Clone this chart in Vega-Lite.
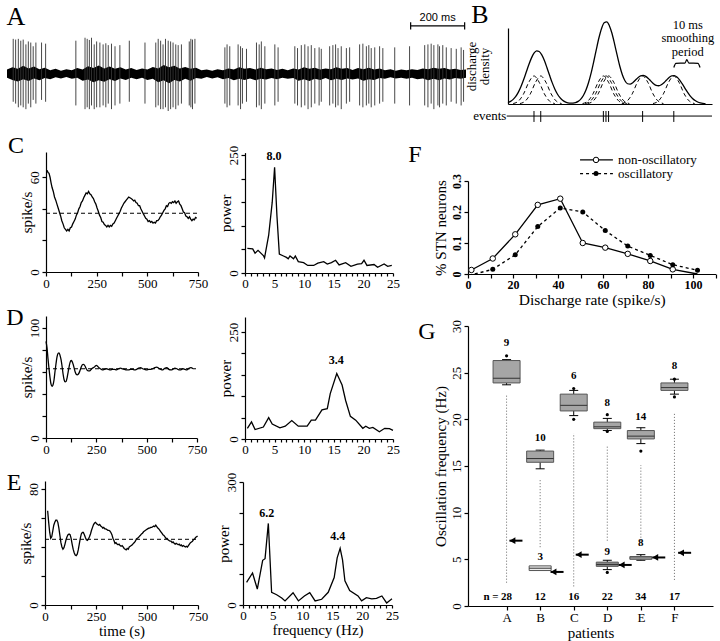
{
"$schema":"https://vega.github.io/schema/vega-lite/v6.json",
"width":720,"height":641,"autosize":{"type":"none"},"padding":0,"background":"white",
"config":{
 "font":"Liberation Serif",
 "view":{"stroke":null},
 "axis":{"grid":false,"domainColor":"#000","tickColor":"#000","labelColor":"#000","titleColor":"#000","labelFont":"Liberation Serif","titleFont":"Liberation Serif","labelFontSize":13,"titleFontSize":15,"titleFontWeight":"normal","tickSize":4,"domainWidth":1.2,"tickWidth":1.2,"labelPadding":1,"labelFlush":false,"labelOverlap":false,"titlePadding":2},
 "text":{"font":"Liberation Serif","fontSize":13,"color":"#000"},
 "line":{"color":"#000","strokeWidth":1.3},
 "rule":{"color":"#000"}
},
"datasets":{
 "aNoise":[{"x":0,"y":0.12,"y2":-0.1},{"x":20,"y":0.18,"y2":-0.16},{"x":40,"y":0.14,"y2":-0.2},{"x":60,"y":0.22,"y2":-0.14},{"x":80,"y":0.15,"y2":-0.19},{"x":100,"y":0.2,"y2":-0.12},{"x":120,"y":0.13,"y2":-0.17},{"x":140,"y":0.17,"y2":-0.11},{"x":160,"y":0.1,"y2":-0.14},{"x":180,"y":0.14,"y2":-0.09},{"x":200,"y":0.09,"y2":-0.12},{"x":220,"y":0.13,"y2":-0.08},{"x":240,"y":0.1,"y2":-0.13},{"x":260,"y":0.16,"y2":-0.1},{"x":280,"y":0.12,"y2":-0.18},{"x":300,"y":0.21,"y2":-0.15},{"x":320,"y":0.16,"y2":-0.22},{"x":340,"y":0.23,"y2":-0.17},{"x":360,"y":0.15,"y2":-0.21},{"x":380,"y":0.2,"y2":-0.14},{"x":400,"y":0.14,"y2":-0.19},{"x":420,"y":0.18,"y2":-0.12},{"x":440,"y":0.12,"y2":-0.16},{"x":460,"y":0.16,"y2":-0.1},{"x":480,"y":0.11,"y2":-0.14},{"x":500,"y":0.15,"y2":-0.1},{"x":520,"y":0.12,"y2":-0.16},{"x":540,"y":0.19,"y2":-0.13},{"x":560,"y":0.15,"y2":-0.22},{"x":580,"y":0.24,"y2":-0.17},{"x":600,"y":0.18,"y2":-0.25},{"x":620,"y":0.22,"y2":-0.16},{"x":640,"y":0.15,"y2":-0.2},{"x":660,"y":0.19,"y2":-0.13},{"x":680,"y":0.14,"y2":-0.18},{"x":700,"y":0.17,"y2":-0.11},{"x":720,"y":0.1,"y2":-0.13},{"x":740,"y":0.12,"y2":-0.08},{"x":760,"y":0.09,"y2":-0.12},{"x":780,"y":0.13,"y2":-0.09},{"x":800,"y":0.1,"y2":-0.14},{"x":820,"y":0.15,"y2":-0.11},{"x":840,"y":0.12,"y2":-0.17},{"x":860,"y":0.18,"y2":-0.13},{"x":880,"y":0.14,"y2":-0.16},{"x":900,"y":0.16,"y2":-0.12},{"x":920,"y":0.12,"y2":-0.17},{"x":940,"y":0.17,"y2":-0.13},{"x":960,"y":0.13,"y2":-0.15},{"x":980,"y":0.15,"y2":-0.11},{"x":1000,"y":0.11,"y2":-0.14},{"x":1020,"y":0.14,"y2":-0.1},{"x":1040,"y":0.1,"y2":-0.13},{"x":1060,"y":0.15,"y2":-0.11},{"x":1080,"y":0.12,"y2":-0.18},{"x":1100,"y":0.18,"y2":-0.14},{"x":1120,"y":0.14,"y2":-0.19},{"x":1140,"y":0.17,"y2":-0.13},{"x":1160,"y":0.12,"y2":-0.16},{"x":1180,"y":0.15,"y2":-0.11},{"x":1200,"y":0.13,"y2":-0.17},{"x":1220,"y":0.18,"y2":-0.13},{"x":1240,"y":0.14,"y2":-0.16},{"x":1260,"y":0.16,"y2":-0.12},{"x":1280,"y":0.11,"y2":-0.15},{"x":1300,"y":0.16,"y2":-0.12},{"x":1320,"y":0.13,"y2":-0.18},{"x":1340,"y":0.17,"y2":-0.14},{"x":1360,"y":0.12,"y2":-0.16},{"x":1380,"y":0.15,"y2":-0.11},{"x":1400,"y":0.1,"y2":-0.13},{"x":1420,"y":0.13,"y2":-0.09},{"x":1440,"y":0.09,"y2":-0.12},{"x":1460,"y":0.12,"y2":-0.1},{"x":1480,"y":0.1,"y2":-0.13},{"x":1500,"y":0.13,"y2":-0.1},{"x":1520,"y":0.11,"y2":-0.14},{"x":1540,"y":0.15,"y2":-0.12},{"x":1560,"y":0.13,"y2":-0.17},{"x":1580,"y":0.17,"y2":-0.13},{"x":1600,"y":0.14,"y2":-0.17},{"x":1620,"y":0.16,"y2":-0.12},{"x":1640,"y":0.12,"y2":-0.15},{"x":1660,"y":0.14,"y2":-0.11},{"x":1680,"y":0.11,"y2":-0.13},{"x":1700,"y":0.12,"y2":-0.1}],
 "aSpikes":[{"x":23,"y":0.95,"y2":-0.75},{"x":32,"y":0.93,"y2":-0.8},{"x":42,"y":0.95,"y2":-0.9},{"x":51,"y":0.9,"y2":-0.85},{"x":60,"y":0.93,"y2":-0.9},{"x":70,"y":0.8,"y2":-0.95},{"x":79,"y":0.88,"y2":-0.8},{"x":88,"y":0.85,"y2":-0.9},{"x":97,"y":0.75,"y2":-0.7},{"x":107,"y":0.85,"y2":-0.8},{"x":128,"y":0.85,"y2":-0.7},{"x":143,"y":0.82,"y2":-0.75},{"x":255,"y":0.9,"y2":-0.85},{"x":289,"y":0.98,"y2":-0.95},{"x":297,"y":0.95,"y2":-0.9},{"x":305,"y":0.92,"y2":-0.95},{"x":313,"y":0.98,"y2":-0.85},{"x":323,"y":0.8,"y2":-0.95},{"x":332,"y":0.88,"y2":-0.9},{"x":344,"y":0.85,"y2":-0.9},{"x":356,"y":0.8,"y2":-0.85},{"x":366,"y":0.83,"y2":-0.9},{"x":375,"y":0.78,"y2":-0.8},{"x":387,"y":0.82,"y2":-0.95},{"x":400,"y":0.75,"y2":-0.85},{"x":418,"y":0.78,"y2":-0.8},{"x":453,"y":0.9,"y2":-0.75},{"x":511,"y":0.85,"y2":-0.8},{"x":551,"y":0.85,"y2":-0.9},{"x":560,"y":0.95,"y2":-0.85},{"x":569,"y":0.9,"y2":-0.95},{"x":578,"y":0.8,"y2":-0.95},{"x":587,"y":0.95,"y2":-0.9},{"x":597,"y":0.9,"y2":-1.0},{"x":606,"y":0.88,"y2":-0.95},{"x":615,"y":0.85,"y2":-0.9},{"x":625,"y":0.8,"y2":-0.95},{"x":634,"y":0.78,"y2":-0.85},{"x":646,"y":0.8,"y2":-0.8},{"x":675,"y":0.88,"y2":-0.85},{"x":681,"y":0.95,"y2":-0.9},{"x":687,"y":0.93,"y2":-0.95},{"x":696,"y":0.95,"y2":-0.8},{"x":807,"y":0.72,"y2":-0.8},{"x":815,"y":0.8,"y2":-0.9},{"x":825,"y":0.75,"y2":-0.85},{"x":856,"y":0.8,"y2":-0.85},{"x":865,"y":0.75,"y2":-0.95},{"x":872,"y":0.7,"y2":-0.8},{"x":887,"y":0.68,"y2":-0.75},{"x":924,"y":0.85,"y2":-0.9},{"x":934,"y":0.8,"y2":-0.85},{"x":942,"y":0.88,"y2":-0.95},{"x":955,"y":0.75,"y2":-0.8},{"x":992,"y":0.8,"y2":-0.85},{"x":1004,"y":0.72,"y2":-0.75},{"x":1066,"y":0.75,"y2":-0.8},{"x":1076,"y":0.7,"y2":-0.85},{"x":1090,"y":0.78,"y2":-0.9},{"x":1103,"y":0.8,"y2":-0.85},{"x":1115,"y":0.75,"y2":-0.95},{"x":1127,"y":0.78,"y2":-0.9},{"x":1140,"y":0.7,"y2":-0.8},{"x":1156,"y":0.72,"y2":-0.85},{"x":1164,"y":0.68,"y2":-0.75},{"x":1195,"y":0.75,"y2":-0.85},{"x":1207,"y":0.78,"y2":-0.8},{"x":1217,"y":0.8,"y2":-0.9},{"x":1226,"y":0.7,"y2":-0.85},{"x":1238,"y":0.75,"y2":-0.95},{"x":1257,"y":0.7,"y2":-0.8},{"x":1269,"y":0.72,"y2":-0.75},{"x":1306,"y":0.8,"y2":-0.85},{"x":1318,"y":0.82,"y2":-0.9},{"x":1331,"y":0.75,"y2":-0.85},{"x":1340,"y":0.78,"y2":-0.8},{"x":1349,"y":0.7,"y2":-0.9},{"x":1362,"y":0.72,"y2":-0.85},{"x":1380,"y":0.75,"y2":-0.8},{"x":1392,"y":0.7,"y2":-0.75},{"x":1436,"y":0.72,"y2":-0.8},{"x":1491,"y":0.75,"y2":-0.85},{"x":1547,"y":0.78,"y2":-0.85},{"x":1559,"y":0.8,"y2":-0.9},{"x":1571,"y":0.82,"y2":-0.8},{"x":1581,"y":0.78,"y2":-0.95},{"x":1596,"y":0.8,"y2":-0.85},{"x":1602,"y":0.75,"y2":-0.9},{"x":1614,"y":0.78,"y2":-0.8},{"x":1627,"y":0.72,"y2":-0.85},{"x":1645,"y":0.7,"y2":-0.75},{"x":1664,"y":0.68,"y2":-0.8},{"x":1682,"y":0.72,"y2":-0.85},{"x":1691,"y":0.65,"y2":-0.75}],
 "bSum":[{"x":0,"y":0.051},{"x":1,"y":0.095},{"x":2,"y":0.165},{"x":3,"y":0.272},{"x":4,"y":0.424},{"x":5,"y":0.623},{"x":6,"y":0.863},{"x":7,"y":1.13},{"x":8,"y":1.398},{"x":9,"y":1.636},{"x":10,"y":1.81},{"x":11,"y":1.892},{"x":12,"y":1.871},{"x":13,"y":1.75},{"x":14,"y":1.548},{"x":15,"y":1.293},{"x":16,"y":1.022},{"x":17,"y":0.762},{"x":18,"y":0.537},{"x":19,"y":0.358},{"x":20,"y":0.225},{"x":21,"y":0.133},{"x":22,"y":0.074},{"x":23,"y":0.044},{"x":24,"y":0.029},{"x":25,"y":0.033},{"x":26,"y":0.052},{"x":27,"y":0.095},{"x":28,"y":0.175},{"x":29,"y":0.304},{"x":30,"y":0.497},{"x":31,"y":0.765},{"x":32,"y":1.109},{"x":33,"y":1.515},{"x":34,"y":1.949},{"x":35,"y":2.362},{"x":36,"y":2.695},{"x":37,"y":2.896},{"x":38,"y":2.931},{"x":39,"y":2.794},{"x":40,"y":2.522},{"x":41,"y":2.147},{"x":42,"y":1.739},{"x":43,"y":1.355},{"x":44,"y":1.043},{"x":45,"y":0.83},{"x":46,"y":0.722},{"x":47,"y":0.706},{"x":48,"y":0.758},{"x":49,"y":0.846},{"x":50,"y":0.938},{"x":51,"y":1.001},{"x":52,"y":1.019},{"x":53,"y":0.985},{"x":54,"y":0.91},{"x":55,"y":0.815},{"x":56,"y":0.725},{"x":57,"y":0.666},{"x":58,"y":0.651},{"x":59,"y":0.685},{"x":60,"y":0.759},{"x":61,"y":0.854},{"x":62,"y":0.943},{"x":63,"y":1.0},{"x":64,"y":1.009},{"x":65,"y":0.96},{"x":66,"y":0.86},{"x":67,"y":0.726},{"x":68,"y":0.576},{"x":69,"y":0.43},{"x":70,"y":0.301},{"x":71,"y":0.198},{"x":72,"y":0.122},{"x":73,"y":0.071},{"x":74,"y":0.039},{"x":75,"y":0.02},{"x":76,"y":0.01}],
 "bDash":[
 {"e":1,"x":2,"y":0.017},{"e":1,"x":4,"y":0.101},{"e":1,"x":6,"y":0.361},{"e":1,"x":8,"y":0.775},{"e":1,"x":10,"y":1},{"e":1,"x":12,"y":0.775},{"e":1,"x":14,"y":0.361},{"e":1,"x":16,"y":0.101},{"e":1,"x":18,"y":0.017},
 {"e":2,"x":4.6,"y":0.017},{"e":2,"x":6.6,"y":0.101},{"e":2,"x":8.6,"y":0.361},{"e":2,"x":10.6,"y":0.775},{"e":2,"x":12.6,"y":1},{"e":2,"x":14.6,"y":0.775},{"e":2,"x":16.6,"y":0.361},{"e":2,"x":18.6,"y":0.101},{"e":2,"x":20.6,"y":0.017},
 {"e":3,"x":28.7,"y":0.017},{"e":3,"x":30.7,"y":0.101},{"e":3,"x":32.7,"y":0.361},{"e":3,"x":34.7,"y":0.775},{"e":3,"x":36.7,"y":1},{"e":3,"x":38.7,"y":0.775},{"e":3,"x":40.7,"y":0.361},{"e":3,"x":42.7,"y":0.101},{"e":3,"x":44.7,"y":0.017},
 {"e":4,"x":29.7,"y":0.017},{"e":4,"x":31.7,"y":0.101},{"e":4,"x":33.7,"y":0.361},{"e":4,"x":35.7,"y":0.775},{"e":4,"x":37.7,"y":1},{"e":4,"x":39.7,"y":0.775},{"e":4,"x":41.7,"y":0.361},{"e":4,"x":43.7,"y":0.101},{"e":4,"x":45.7,"y":0.017},
 {"e":5,"x":30.7,"y":0.017},{"e":5,"x":32.7,"y":0.101},{"e":5,"x":34.7,"y":0.361},{"e":5,"x":36.7,"y":0.775},{"e":5,"x":38.7,"y":1},{"e":5,"x":40.7,"y":0.775},{"e":5,"x":42.7,"y":0.361},{"e":5,"x":44.7,"y":0.101},{"e":5,"x":46.7,"y":0.017},
 {"e":6,"x":43.8,"y":0.017},{"e":6,"x":45.8,"y":0.101},{"e":6,"x":47.8,"y":0.361},{"e":6,"x":49.8,"y":0.775},{"e":6,"x":51.8,"y":1},{"e":6,"x":53.8,"y":0.775},{"e":6,"x":55.8,"y":0.361},{"e":6,"x":57.8,"y":0.101},{"e":6,"x":59.8,"y":0.017},
 {"e":7,"x":55.8,"y":0.017},{"e":7,"x":57.8,"y":0.101},{"e":7,"x":59.8,"y":0.361},{"e":7,"x":61.8,"y":0.775},{"e":7,"x":63.8,"y":1},{"e":7,"x":65.8,"y":0.775},{"e":7,"x":67.8,"y":0.361},{"e":7,"x":69.8,"y":0.101},{"e":7,"x":71.8,"y":0.017}],
 "cTime":[{"x":5,"y":64.5},{"x":10,"y":63},{"x":15,"y":62.5},{"x":20,"y":60},{"x":25,"y":56.5},{"x":30,"y":53.5},{"x":36,"y":51},{"x":42,"y":47.5},{"x":48,"y":45.5},{"x":54,"y":43},{"x":60,"y":40.5},{"x":66,"y":38},{"x":72,"y":35.5},{"x":78,"y":32.5},{"x":84,"y":30.5},{"x":90,"y":28},{"x":96,"y":27},{"x":102,"y":26},{"x":108,"y":27},{"x":114,"y":26},{"x":120,"y":28},{"x":126,"y":28.5},{"x":132,"y":30.5},{"x":138,"y":32},{"x":144,"y":33.5},{"x":150,"y":36},{"x":156,"y":37.5},{"x":162,"y":40},{"x":168,"y":41.5},{"x":174,"y":44},{"x":180,"y":45},{"x":186,"y":47},{"x":192,"y":48.5},{"x":198,"y":50},{"x":204,"y":49.5},{"x":210,"y":51},{"x":216,"y":49.5},{"x":222,"y":49},{"x":228,"y":47.5},{"x":234,"y":46.5},{"x":240,"y":44.5},{"x":246,"y":43},{"x":252,"y":40.5},{"x":258,"y":38.5},{"x":264,"y":36},{"x":270,"y":34.5},{"x":276,"y":32},{"x":282,"y":31.5},{"x":288,"y":30},{"x":294,"y":29.5},{"x":300,"y":28.5},{"x":306,"y":29.5},{"x":312,"y":28.5},{"x":318,"y":29.5},{"x":324,"y":29},{"x":330,"y":30.5},{"x":336,"y":31},{"x":342,"y":32.5},{"x":348,"y":34},{"x":354,"y":35.5},{"x":360,"y":37},{"x":366,"y":38.5},{"x":372,"y":40.5},{"x":378,"y":42},{"x":384,"y":43.5},{"x":390,"y":44.5},{"x":396,"y":45.5},{"x":402,"y":46.5},{"x":408,"y":47.5},{"x":414,"y":47},{"x":420,"y":46.5},{"x":426,"y":46},{"x":432,"y":45},{"x":438,"y":45.5},{"x":444,"y":44},{"x":450,"y":43.5},{"x":456,"y":42},{"x":462,"y":42},{"x":468,"y":40},{"x":474,"y":38.5},{"x":480,"y":37},{"x":486,"y":35.5},{"x":492,"y":34},{"x":498,"y":33.5},{"x":504,"y":32},{"x":510,"y":32.5},{"x":516,"y":31.5},{"x":522,"y":32},{"x":528,"y":31},{"x":534,"y":31.5},{"x":540,"y":31},{"x":546,"y":32.5},{"x":552,"y":32.5},{"x":558,"y":33.5},{"x":564,"y":35},{"x":570,"y":36},{"x":576,"y":37.5},{"x":582,"y":39},{"x":588,"y":40},{"x":594,"y":42},{"x":600,"y":41.5},{"x":606,"y":43.5},{"x":612,"y":44},{"x":618,"y":43.5},{"x":624,"y":44.5},{"x":630,"y":44},{"x":636,"y":45},{"x":642,"y":43.5},{"x":648,"y":44.5},{"x":654,"y":45},{"x":660,"y":43},{"x":666,"y":42},{"x":672,"y":40},{"x":678,"y":38},{"x":684,"y":37.5},{"x":690,"y":35.5},{"x":696,"y":35},{"x":702,"y":34},{"x":708,"y":35},{"x":714,"y":33.5},{"x":720,"y":32.5},{"x":726,"y":33.5},{"x":732,"y":33},{"x":738,"y":34.5},{"x":744,"y":34}],
 "cPow":[{"x":0.4,"y":52},{"x":1.3,"y":51},{"x":1.7,"y":42},{"x":2.2,"y":48},{"x":3.1,"y":37},{"x":3.3,"y":32},{"x":4.0,"y":80},{"x":4.6,"y":150},{"x":5.0,"y":224},{"x":5.4,"y":120},{"x":5.8,"y":40},{"x":6.5,"y":36},{"x":7.0,"y":33},{"x":7.3,"y":30},{"x":7.6,"y":36},{"x":8.2,"y":30},{"x":8.5,"y":36},{"x":9.0,"y":24},{"x":9.9,"y":22},{"x":10.6,"y":16},{"x":11.6,"y":16},{"x":12.3,"y":21},{"x":13.3,"y":24},{"x":13.9,"y":19},{"x":14.6,"y":22},{"x":15.3,"y":27},{"x":15.9,"y":17},{"x":17.0,"y":22},{"x":17.9,"y":14},{"x":19.0,"y":19},{"x":19.7,"y":20},{"x":20.1,"y":27},{"x":20.6,"y":16},{"x":21.8,"y":18},{"x":22.4,"y":12},{"x":23.5,"y":19},{"x":24.1,"y":14},{"x":24.8,"y":16}],
 "dTime":[{"x":0,"y":88},{"x":5,"y":82},{"x":10,"y":72},{"x":15,"y":63},{"x":20,"y":55},{"x":25,"y":49},{"x":30,"y":47},{"x":35,"y":48.5},{"x":40,"y":53},{"x":45,"y":61},{"x":50,"y":68},{"x":55,"y":74},{"x":60,"y":77},{"x":65,"y":77.5},{"x":70,"y":75},{"x":75,"y":71},{"x":80,"y":65},{"x":85,"y":58},{"x":90,"y":53},{"x":95,"y":51},{"x":100,"y":51.5},{"x":105,"y":55},{"x":110,"y":60},{"x":115,"y":65},{"x":120,"y":69},{"x":125,"y":70.5},{"x":130,"y":69.5},{"x":135,"y":67},{"x":140,"y":63.5},{"x":145,"y":60},{"x":150,"y":58},{"x":155,"y":57.5},{"x":160,"y":58},{"x":165,"y":59.5},{"x":170,"y":62},{"x":175,"y":64.5},{"x":180,"y":66.5},{"x":185,"y":67},{"x":190,"y":66.5},{"x":195,"y":65},{"x":200,"y":63},{"x":205,"y":61.5},{"x":210,"y":61},{"x":215,"y":61},{"x":220,"y":61.5},{"x":225,"y":62.5},{"x":230,"y":63.5},{"x":235,"y":64},{"x":240,"y":64.5},{"x":245,"y":65.5},{"x":250,"y":66},{"x":255,"y":65.5},{"x":260,"y":64.5},{"x":270,"y":63},{"x":280,"y":62},{"x":290,"y":62.5},{"x":300,"y":63},{"x":310,"y":62.5},{"x":320,"y":62},{"x":330,"y":62.5},{"x":340,"y":62.5},{"x":350,"y":62},{"x":360,"y":63},{"x":370,"y":63.5},{"x":380,"y":63},{"x":390,"y":62.5},{"x":400,"y":62},{"x":410,"y":62},{"x":420,"y":62.5},{"x":430,"y":62.5},{"x":440,"y":62},{"x":450,"y":62.5},{"x":460,"y":63.5},{"x":470,"y":64},{"x":480,"y":63},{"x":490,"y":62.5},{"x":500,"y":62},{"x":510,"y":62.5},{"x":520,"y":62.5},{"x":530,"y":63},{"x":540,"y":64},{"x":550,"y":64.5},{"x":560,"y":63.5},{"x":570,"y":62.5},{"x":580,"y":62},{"x":590,"y":63.5},{"x":600,"y":64},{"x":610,"y":62.5},{"x":620,"y":62},{"x":630,"y":62.5},{"x":640,"y":63.5},{"x":650,"y":63},{"x":660,"y":62},{"x":670,"y":62},{"x":680,"y":63},{"x":690,"y":62.5},{"x":700,"y":62},{"x":710,"y":63.5},{"x":720,"y":64},{"x":730,"y":63}],
 "dPow":[{"x":0.4,"y":25},{"x":1.1,"y":40},{"x":1.7,"y":22},{"x":3.1,"y":28},{"x":4.0,"y":50},{"x":4.6,"y":35},{"x":5.9,"y":26},{"x":6.8,"y":30},{"x":7.9,"y":43},{"x":9.0,"y":30},{"x":10.5,"y":30},{"x":11.2,"y":44},{"x":11.9,"y":44},{"x":13.0,"y":68},{"x":13.9,"y":71},{"x":14.4,"y":106},{"x":15.5,"y":153},{"x":16.4,"y":126},{"x":17.0,"y":90},{"x":17.8,"y":53},{"x":18.7,"y":44},{"x":19.9,"y":25},{"x":20.4,"y":30},{"x":21.0,"y":25},{"x":21.6,"y":27},{"x":22.7,"y":17},{"x":23.6,"y":25},{"x":24.4,"y":24},{"x":25.0,"y":20}],
 "eTime":[{"x":13,"y":65},{"x":18,"y":57},{"x":23,"y":50},{"x":28,"y":46},{"x":33,"y":47},{"x":38,"y":51},{"x":43,"y":55},{"x":48,"y":57},{"x":53,"y":58.5},{"x":58,"y":58.5},{"x":63,"y":57},{"x":68,"y":53},{"x":73,"y":48},{"x":78,"y":43},{"x":83,"y":40},{"x":88,"y":38.5},{"x":93,"y":39.5},{"x":98,"y":42},{"x":103,"y":45},{"x":108,"y":47},{"x":113,"y":48.5},{"x":118,"y":49},{"x":123,"y":48.5},{"x":128,"y":46},{"x":133,"y":42},{"x":138,"y":38.5},{"x":143,"y":36},{"x":148,"y":34.5},{"x":153,"y":34},{"x":158,"y":35},{"x":163,"y":38},{"x":168,"y":42},{"x":173,"y":46},{"x":178,"y":49},{"x":183,"y":50},{"x":188,"y":50},{"x":193,"y":48.5},{"x":198,"y":46.5},{"x":203,"y":45},{"x":208,"y":44.5},{"x":213,"y":45.5},{"x":218,"y":47},{"x":223,"y":49},{"x":228,"y":51.5},{"x":233,"y":53.5},{"x":238,"y":55.5},{"x":243,"y":56.5},{"x":248,"y":57},{"x":253,"y":56},{"x":258,"y":55.5},{"x":263,"y":55},{"x":268,"y":55.5},{"x":273,"y":54.5},{"x":278,"y":54},{"x":283,"y":53},{"x":288,"y":53.5},{"x":293,"y":52.5},{"x":298,"y":52.5},{"x":303,"y":52},{"x":308,"y":51.5},{"x":313,"y":51.5},{"x":318,"y":51},{"x":323,"y":50},{"x":328,"y":48.5},{"x":333,"y":46},{"x":338,"y":44.5},{"x":343,"y":42.5},{"x":348,"y":43},{"x":353,"y":42},{"x":358,"y":41.5},{"x":363,"y":42},{"x":368,"y":41},{"x":373,"y":40.5},{"x":378,"y":41},{"x":383,"y":40},{"x":388,"y":39},{"x":393,"y":38.5},{"x":398,"y":38},{"x":403,"y":39},{"x":408,"y":38.5},{"x":413,"y":40},{"x":418,"y":40.5},{"x":423,"y":41},{"x":428,"y":41.5},{"x":433,"y":42.5},{"x":438,"y":43},{"x":443,"y":44},{"x":448,"y":45.5},{"x":453,"y":46},{"x":458,"y":46.5},{"x":463,"y":47.5},{"x":468,"y":48},{"x":473,"y":49},{"x":478,"y":49.5},{"x":483,"y":50.5},{"x":488,"y":51},{"x":493,"y":51.5},{"x":498,"y":52},{"x":503,"y":52.5},{"x":508,"y":53},{"x":513,"y":53},{"x":518,"y":53.5},{"x":523,"y":53.5},{"x":528,"y":54},{"x":533,"y":54.5},{"x":538,"y":54},{"x":543,"y":55},{"x":548,"y":54},{"x":553,"y":53},{"x":558,"y":52.5},{"x":563,"y":51.5},{"x":568,"y":50.5},{"x":573,"y":49.5},{"x":578,"y":48.5},{"x":583,"y":48},{"x":588,"y":47},{"x":593,"y":46},{"x":598,"y":46},{"x":603,"y":45},{"x":608,"y":44.5},{"x":613,"y":44},{"x":618,"y":44},{"x":623,"y":43},{"x":628,"y":43.5},{"x":633,"y":42.5},{"x":638,"y":42},{"x":643,"y":42.5},{"x":648,"y":42},{"x":653,"y":41.5},{"x":658,"y":42},{"x":663,"y":41},{"x":668,"y":41.5},{"x":673,"y":40.5},{"x":678,"y":41},{"x":683,"y":40.5},{"x":688,"y":40},{"x":693,"y":40.5},{"x":698,"y":40},{"x":703,"y":41},{"x":708,"y":42},{"x":713,"y":43},{"x":718,"y":43.5},{"x":723,"y":44},{"x":728,"y":45},{"x":733,"y":45.5},{"x":738,"y":46.5},{"x":743,"y":47},{"x":748,"y":47.5}],
 "ePow":[{"x":0.6,"y":55},{"x":1.6,"y":78},{"x":2.4,"y":39},{"x":3.3,"y":109},{"x":3.7,"y":113},{"x":4.25,"y":199},{"x":4.8,"y":31},{"x":5.65,"y":25},{"x":6.5,"y":17},{"x":7.05,"y":10},{"x":8.4,"y":30},{"x":9.3,"y":10},{"x":10.3,"y":22},{"x":11.2,"y":30},{"x":12.1,"y":10},{"x":13.2,"y":14},{"x":14.3,"y":31},{"x":15.3,"y":67},{"x":15.8,"y":115},{"x":16.3,"y":138},{"x":16.7,"y":110},{"x":17.1,"y":59},{"x":17.9,"y":35},{"x":19.3,"y":22},{"x":19.9,"y":10},{"x":20.7,"y":18},{"x":21.6,"y":15},{"x":22.4,"y":16},{"x":23.3,"y":22},{"x":24.1,"y":5},{"x":25.0,"y":15}],
 "fNon":[{"x":1.5,"y":0.013,"m":true},{"x":11,"y":0.05,"m":true},{"x":21,"y":0.128,"m":true},{"x":31,"y":0.223,"m":true},{"x":41,"y":0.243,"m":true},{"x":51,"y":0.1,"m":true},{"x":61,"y":0.085,"m":true},{"x":71,"y":0.065,"m":true},{"x":81,"y":0.042,"m":true},{"x":91,"y":0.015,"m":true},{"x":102,"y":0,"m":false}],
 "fOsc":[{"x":3,"y":0,"m":false},{"x":11,"y":0.015,"m":true},{"x":21,"y":0.062,"m":true},{"x":31,"y":0.153,"m":true},{"x":41,"y":0.213,"m":true},{"x":51,"y":0.2,"m":true},{"x":61,"y":0.14,"m":true},{"x":71,"y":0.09,"m":true},{"x":81,"y":0.06,"m":true},{"x":91,"y":0.03,"m":true},{"x":102,"y":0.012,"m":true}],
 "gBoxHi":[{"x":1,"y":23.9,"y2":26.3,"kind":"h"},{"x":2,"y":15.4,"y2":16.6,"kind":"h"},{"x":3,"y":20.9,"y2":22.7,"kind":"h"},{"x":4,"y":19.0,"y2":19.7,"kind":"h"},{"x":5,"y":17.9,"y2":18.8,"kind":"h"},{"x":6,"y":23.1,"y2":23.9,"kind":"h"}],
 "gBoxLo":[{"x":2,"y":3.8,"y2":4.3,"kind":"l"},{"x":4,"y":4.25,"y2":4.7,"kind":"d"},{"x":5,"y":5.0,"y2":5.3,"kind":"l"}],
 "gMedHi":[{"x":1,"y":24.4},{"x":2,"y":15.8},{"x":3,"y":21.5},{"x":4,"y":19.2},{"x":5,"y":18.2},{"x":6,"y":23.4}],
 "gMedLo":[{"x":2,"y":4.05},{"x":4,"y":4.45},{"x":5,"y":5.15}],
 "gWhisk":[{"x":1,"y":23.7,"y2":23.9},{"x":1,"y":26.3,"y2":26.4},{"x":2,"y":14.7,"y2":15.4},{"x":2,"y":16.6,"y2":16.7},{"x":3,"y":20.4,"y2":20.9},{"x":3,"y":22.7,"y2":23.1},{"x":4,"y":18.8,"y2":19.0},{"x":4,"y":19.7,"y2":20.1},{"x":4,"y":3.9,"y2":4.25},{"x":4,"y":4.7,"y2":4.9},{"x":5,"y":17.4,"y2":17.9},{"x":5,"y":18.8,"y2":19.1},{"x":5,"y":4.9,"y2":5.0},{"x":5,"y":5.3,"y2":5.5},{"x":6,"y":22.7,"y2":23.1},{"x":6,"y":23.9,"y2":24.3}],
 "gCap":[{"x":1,"y":23.7},{"x":1,"y":26.4},{"x":2,"y":14.7},{"x":2,"y":16.7},{"x":3,"y":20.4},{"x":3,"y":23.1},{"x":4,"y":18.8},{"x":4,"y":20.1},{"x":4,"y":3.9},{"x":4,"y":4.9},{"x":5,"y":17.4},{"x":5,"y":19.1},{"x":5,"y":4.9},{"x":5,"y":5.5},{"x":6,"y":22.7},{"x":6,"y":24.3}],
 "gOut":[{"x":1,"y":26.8},{"x":3,"y":23.3},{"x":3,"y":20.0},{"x":4,"y":20.5},{"x":4,"y":18.7},{"x":4,"y":3.6},{"x":5,"y":16.6},{"x":6,"y":24.3},{"x":6,"y":22.4}],
 "gDot":[{"x":1,"y":2.5,"y2":22.6},{"x":2,"y":6.3,"y2":13.6},{"x":3,"y":2.1,"y2":18.5},{"x":4,"y":7.0,"y2":17.1},{"x":5,"y":7.0,"y2":15.1},{"x":6,"y":2.8,"y2":20.8}],
 "gArrow":[{"x":1.086,"y":7.0},{"x":2.31,"y":3.65},{"x":3.06,"y":5.5},{"x":4.34,"y":4.4},{"x":5.34,"y":5.2},{"x":6.11,"y":5.7}],
 "gCount":[{"x":1,"y":28.2,"label":"9"},{"x":2,"y":18.0,"label":"10"},{"x":3,"y":24.6,"label":"6"},{"x":4,"y":21.8,"label":"8"},{"x":5,"y":20.2,"label":"14"},{"x":6,"y":25.7,"label":"8"},{"x":2,"y":5.3,"label":"3"},{"x":4,"y":5.8,"label":"9"},{"x":5,"y":6.7,"label":"8"}],
 "gN":[{"x":1,"y":0.95,"label":"28"},{"x":2,"y":0.95,"label":"12"},{"x":3,"y":0.95,"label":"16"},{"x":4,"y":0.95,"label":"22"},{"x":5,"y":0.95,"label":"34"},{"x":6,"y":0.95,"label":"17"}]
},
"resolve":{"scale":{"x":"independent","y":"independent"},"axis":{"x":"independent","y":"independent"}},
"layer":[
 {"encoding":{"x":{"field":"x","type":"quantitative","scale":{"domain":[0,1700],"range":[7,466],"nice":false,"zero":false},"axis":null},
   "y":{"field":"y","type":"quantitative","scale":{"domain":[-1,1],"range":[111,37],"nice":false,"zero":false},"axis":null}},
  "layer":[
   {"data":{"name":"aNoise"},"mark":{"type":"area","color":"#000"},"encoding":{"y2":{"field":"y2"}}},
   {"data":{"name":"aSpikes"},"mark":{"type":"rule","color":"#333","strokeWidth":0.9},"encoding":{"y2":{"field":"y2"}}},
   {"data":{"values":[{"x":1495,"x2":1695,"y":1.3}]},"mark":{"type":"rule","strokeWidth":1.2},"encoding":{"x2":{"field":"x2"}}},
   {"data":{"values":[{"x":1495,"y":1.2,"y2":1.4},{"x":1695,"y":1.2,"y2":1.4}]},"mark":{"type":"rule","strokeWidth":1.2},"encoding":{"y2":{"field":"y2"}}},
   {"data":{"values":[{"x":1595,"y":1.52,"label":"200 ms"}]},"mark":{"type":"text","font":"Liberation Sans","fontSize":11},"encoding":{"text":{"field":"label"}}},
   {"data":{"values":[{"x":33,"y":1.55,"label":"A"}]},"mark":{"type":"text","fontSize":26},"encoding":{"text":{"field":"label"}}}
  ]},
 {"encoding":{"x":{"field":"x","type":"quantitative","scale":{"domain":[0,78.5],"range":[508,712],"nice":false,"zero":false},"axis":{"orient":"bottom","offset":-537,"ticks":false,"labels":false,"title":null}},
   "y":{"field":"y","type":"quantitative","scale":{"domain":[0,2.71],"range":[104,28],"nice":false,"zero":false},"axis":{"orient":"left","offset":-508,"ticks":false,"labels":false,"title":["discharge","density"],"titleFontSize":13,"titleLineHeight":13,"titlePadding":17}}},
  "layer":[
   {"data":{"name":"bDash"},"mark":{"type":"line","strokeDash":[4,3],"strokeWidth":1,"interpolate":"monotone"},"encoding":{"detail":{"field":"e"}}},
   {"data":{"name":"bSum"},"mark":{"type":"line","interpolate":"monotone","strokeWidth":1.3}},
   {"data":{"values":[{"x":-0.5,"x2":78.5,"y":-0.43}]},"mark":{"type":"rule","strokeWidth":1},"encoding":{"x2":{"field":"x2"}}},
   {"data":{"values":[{"x":10,"y":-0.25,"y2":-0.64},{"x":12.6,"y":-0.25,"y2":-0.64},{"x":36.7,"y":-0.25,"y2":-0.64},{"x":37.7,"y":-0.25,"y2":-0.64},{"x":38.7,"y":-0.25,"y2":-0.64},{"x":51.8,"y":-0.25,"y2":-0.64},{"x":63.8,"y":-0.25,"y2":-0.64}]},"mark":{"type":"rule","strokeWidth":1},"encoding":{"y2":{"field":"y2"}}},
   {"data":{"values":[{"x":-0.6,"y":-0.43,"label":"events"}]},"mark":{"type":"text","align":"right","fontSize":13},"encoding":{"text":{"field":"label"}}},
   {"data":{"values":[{"x":69.2,"y":2.82,"label":"10 ms"},{"x":69.2,"y":2.36,"label":"smoothing"},{"x":69.2,"y":1.86,"label":"period"}]},"mark":{"type":"text","fontSize":12.5},"encoding":{"text":{"field":"label"}}},
   {"data":{"values":[{"x":63.8,"y":1.3},{"x":64.6,"y":1.45},{"x":68.1,"y":1.46},{"x":68.8,"y":1.58},{"x":69.6,"y":1.46},{"x":73.1,"y":1.45},{"x":73.9,"y":1.3}]},"mark":{"type":"line","strokeWidth":1.2,"interpolate":"monotone"}},
   {"data":{"values":[{"x":-10.8,"y":3.18,"label":"B"}]},"mark":{"type":"text","fontSize":26},"encoding":{"text":{"field":"label"}}}
  ]},
 {"encoding":{"x":{"field":"x","type":"quantitative","scale":{"domain":[0,750],"range":[46,198],"nice":false,"zero":false},"axis":{"orient":"bottom","offset":-369,"values":[0,125,250,375,500,625,750],"labelExpr":"datum.value%250==0?datum.label:''","title":null}},
   "y":{"field":"y","type":"quantitative","scale":{"domain":[0,76],"range":[272,152],"nice":false,"zero":false},"axis":{"orient":"left","offset":-46,"values":[0,20,40,60],"labelExpr":"datum.value==0||datum.value==60?datum.label:''","labelAngle":-90,"labelAlign":"center","labelBaseline":"bottom","title":"spike/s","titlePadding":-6}}},
  "layer":[
   {"data":{"name":"cTime"},"mark":{"type":"line","strokeWidth":1.3}},
   {"data":{"values":[{"x":0,"x2":745,"y":37.2}]},"mark":{"type":"rule","strokeDash":[4,3],"strokeWidth":1},"encoding":{"x2":{"field":"x2"}}},
   {"data":{"values":[{"x":-148,"y":79.8,"label":"C"}]},"mark":{"type":"text","fontSize":24},"encoding":{"text":{"field":"label"}}}
  ]},
 {"encoding":{"x":{"field":"x","type":"quantitative","scale":{"domain":[0,25],"range":[245,393],"nice":false,"zero":false},"axis":{"orient":"bottom","offset":-368,"values":[0,1,2,3,4,5,6,7,8,9,10,11,12,13,14,15,16,17,18,19,20,21,22,23,24,25],"labelExpr":"datum.value%5==0?datum.label:''","tickSize":3,"title":null}},
   "y":{"field":"y","type":"quantitative","scale":{"domain":[0,255],"range":[273,152.6],"nice":false,"zero":false},"axis":{"orient":"left","offset":-245,"values":[0,50,100,150,200,250],"labelExpr":"datum.value==0||datum.value==250?datum.label:''","labelAngle":-90,"labelAlign":"center","labelBaseline":"bottom","title":"power","titlePadding":-6}}},
  "layer":[
   {"data":{"name":"cPow"},"mark":{"type":"line","strokeWidth":1.3}},
   {"data":{"values":[{"x":4.9,"y":248,"label":"8.0"}]},"mark":{"type":"text","fontSize":12,"fontWeight":"bold"},"encoding":{"text":{"field":"label"}}}
  ]},
 {"encoding":{"x":{"field":"x","type":"quantitative","scale":{"domain":[0,750],"range":[46,197],"nice":false,"zero":false},"axis":{"orient":"bottom","offset":-203,"values":[0,125,250,375,500,625,750],"labelExpr":"datum.value%250==0?datum.label:''","title":null}},
   "y":{"field":"y","type":"quantitative","scale":{"domain":[0,111],"range":[438,316],"nice":false,"zero":false},"axis":{"orient":"left","offset":-46,"values":[0,20,40,60,80,100],"labelExpr":"datum.value==0||datum.value==100?datum.label:''","labelAngle":-90,"labelAlign":"center","labelBaseline":"bottom","title":"spike/s","titlePadding":-6}}},
  "layer":[
   {"data":{"name":"dTime"},"mark":{"type":"line","strokeWidth":1.3,"interpolate":"monotone"}},
   {"data":{"values":[{"x":0,"x2":745,"y":63}]},"mark":{"type":"rule","strokeDash":[4,3],"strokeWidth":1},"encoding":{"x2":{"field":"x2"}}},
   {"data":{"values":[{"x":-154,"y":109,"label":"D"}]},"mark":{"type":"text","fontSize":24},"encoding":{"text":{"field":"label"}}}
  ]},
 {"encoding":{"x":{"field":"x","type":"quantitative","scale":{"domain":[0,25],"range":[245,393],"nice":false,"zero":false},"axis":{"orient":"bottom","offset":-202,"values":[0,1,2,3,4,5,6,7,8,9,10,11,12,13,14,15,16,17,18,19,20,21,22,23,24,25],"labelExpr":"datum.value%5==0?datum.label:''","tickSize":3,"title":null}},
   "y":{"field":"y","type":"quantitative","scale":{"domain":[0,285],"range":[439,317],"nice":false,"zero":false},"axis":{"orient":"left","offset":-245,"values":[0,50,100,150,200,250],"labelExpr":"datum.value==0||datum.value==250?datum.label:''","labelAngle":-90,"labelAlign":"center","labelBaseline":"bottom","title":"power","titlePadding":-6}}},
  "layer":[
   {"data":{"name":"dPow"},"mark":{"type":"line","strokeWidth":1.3}},
   {"data":{"values":[{"x":15.4,"y":185,"label":"3.4"}]},"mark":{"type":"text","fontSize":12,"fontWeight":"bold"},"encoding":{"text":{"field":"label"}}}
  ]},
 {"encoding":{"x":{"field":"x","type":"quantitative","scale":{"domain":[0,750],"range":[45,198],"nice":false,"zero":false},"axis":{"orient":"bottom","offset":-36,"values":[0,125,250,375,500,625,750],"labelExpr":"datum.value%250==0?datum.label:''","title":"time (s)","titlePadding":0}},
   "y":{"field":"y","type":"quantitative","scale":{"domain":[0,85.5],"range":[605,481],"nice":false,"zero":false},"axis":{"orient":"left","offset":-45,"values":[0,20,40,60,80],"labelExpr":"datum.value==0||datum.value==80?datum.label:''","labelAngle":-90,"labelAlign":"center","labelBaseline":"bottom","title":"spike/s","titlePadding":-6}}},
  "layer":[
   {"data":{"name":"eTime"},"mark":{"type":"line","strokeWidth":1.3}},
   {"data":{"values":[{"x":0,"x2":740,"y":45.3}]},"mark":{"type":"rule","strokeDash":[4,3],"strokeWidth":1},"encoding":{"x2":{"field":"x2"}}},
   {"data":{"values":[{"x":-152,"y":84.1,"label":"E"}]},"mark":{"type":"text","fontSize":24},"encoding":{"text":{"field":"label"}}}
  ]},
 {"encoding":{"x":{"field":"x","type":"quantitative","scale":{"domain":[0,25],"range":[243,392],"nice":false,"zero":false},"axis":{"orient":"bottom","offset":-36,"values":[0,1,2,3,4,5,6,7,8,9,10,11,12,13,14,15,16,17,18,19,20,21,22,23,24,25],"labelExpr":"datum.value%5==0?datum.label:''","tickSize":3,"title":"frequency (Hz)","titlePadding":0}},
   "y":{"field":"y","type":"quantitative","scale":{"domain":[0,300],"range":[605,482],"nice":false,"zero":false},"axis":{"orient":"left","offset":-243,"values":[0,75,150,225,300],"labelExpr":"datum.value==0||datum.value==300?datum.label:''","labelAngle":-90,"labelAlign":"center","labelBaseline":"bottom","title":"power","titlePadding":-6}}},
  "layer":[
   {"data":{"name":"ePow"},"mark":{"type":"line","strokeWidth":1.3}},
   {"data":{"values":[{"x":4.0,"y":224,"label":"6.2"},{"x":15.9,"y":168,"label":"4.4"}]},"mark":{"type":"text","fontSize":12,"fontWeight":"bold"},"encoding":{"text":{"field":"label"}}}
  ]},
 {"encoding":{"x":{"field":"x","type":"quantitative","scale":{"domain":[0,110],"range":[468,715.5],"nice":false,"zero":false},"axis":{"orient":"bottom","offset":-367,"values":[0,10,20,30,40,50,60,70,80,90,100,110],"labelExpr":"datum.value%20==0&&datum.value<=100?datum.label:''","labelFontWeight":"bold","labelFontSize":12,"title":"Discharge rate (spike/s)","titleFontSize":15.5,"titlePadding":2}},
   "y":{"field":"y","type":"quantitative","scale":{"domain":[0,0.3],"range":[274,181],"nice":false,"zero":false},"axis":{"orient":"left","offset":-468,"values":[0,0.1,0.2,0.3],"format":".1~f","labelAngle":-90,"labelAlign":"center","labelBaseline":"bottom","labelFontWeight":"bold","labelFontSize":12,"title":"% STN neurons","titlePadding":2}}},
  "layer":[
   {"data":{"name":"fNon"},"mark":{"type":"line","strokeWidth":1.3}},
   {"data":{"name":"fOsc"},"mark":{"type":"line","strokeWidth":1.3,"strokeDash":[3,3]}},
   {"data":{"name":"fNon"},"transform":[{"filter":"datum.m"}],"mark":{"type":"point","shape":"circle","filled":true,"fill":"white","stroke":"#000","strokeWidth":1,"size":30,"opacity":1}},
   {"data":{"name":"fOsc"},"transform":[{"filter":"datum.m"}],"mark":{"type":"point","shape":"circle","filled":true,"color":"#000","size":25,"opacity":1}},
   {"data":{"values":[{"x":49.8,"x2":64.4,"y":0.368}]},"mark":{"type":"rule","strokeWidth":1.3},"encoding":{"x2":{"field":"x2"}}},
   {"data":{"values":[{"x":49.8,"x2":64.4,"y":0.324}]},"mark":{"type":"rule","strokeWidth":1.3,"strokeDash":[3,3]},"encoding":{"x2":{"field":"x2"}}},
   {"data":{"values":[{"x":56.9,"y":0.368}]},"mark":{"type":"point","shape":"circle","filled":true,"fill":"white","stroke":"#000","strokeWidth":1,"size":30,"opacity":1}},
   {"data":{"values":[{"x":56.9,"y":0.324}]},"mark":{"type":"point","shape":"circle","filled":true,"color":"#000","size":25,"opacity":1}},
   {"data":{"values":[{"x":66.7,"y":0.368,"label":"non-oscillatory"},{"x":66.7,"y":0.324,"label":"oscillatory"}]},"mark":{"type":"text","align":"left","fontSize":13},"encoding":{"text":{"field":"label"}}},
   {"data":{"values":[{"x":-23.6,"y":0.384,"label":"F"}]},"mark":{"type":"text","fontSize":24},"encoding":{"text":{"field":"label"}}}
  ]},
 {"encoding":{"x":{"field":"x","type":"quantitative","scale":{"domain":[0,7],"range":[468,713],"nice":false,"zero":false},"axis":{"orient":"bottom","offset":-35,"values":[1,2,3,4,5,6],"labelExpr":"['','A','B','C','D','E','F'][datum.value]","title":"patients","titlePadding":1}},
   "y":{"field":"y","type":"quantitative","scale":{"domain":[0,30],"range":[606,326],"nice":false,"zero":false},"axis":{"orient":"left","offset":-468,"values":[0,5,10,15,20,25,30],"labelAngle":-90,"labelAlign":"center","labelBaseline":"bottom","title":"Oscillation frequency (Hz)","titlePadding":2}}},
  "layer":[
   {"data":{"name":"gDot"},"mark":{"type":"rule","strokeDash":[1,2],"color":"#666","strokeWidth":1},"encoding":{"y2":{"field":"y2"}}},
   {"data":{"name":"gWhisk"},"mark":{"type":"rule","strokeWidth":1},"encoding":{"y2":{"field":"y2"}}},
   {"data":{"name":"gCap"},"mark":{"type":"tick","orient":"horizontal","size":9,"thickness":1,"color":"#000","opacity":1}},
   {"data":{"name":"gBoxHi"},"mark":{"type":"bar","size":27,"stroke":"#555","strokeWidth":1},"encoding":{"y2":{"field":"y2"},"fill":{"field":"kind","type":"nominal","scale":{"domain":["h","l","d"],"range":["#a6a6a6","#ececec","#8a8a8a"]},"legend":null}}},
   {"data":{"name":"gBoxLo"},"mark":{"type":"bar","size":22,"stroke":"#555","strokeWidth":1},"encoding":{"y2":{"field":"y2"},"fill":{"field":"kind","type":"nominal","scale":{"domain":["h","l","d"],"range":["#a6a6a6","#ececec","#8a8a8a"]},"legend":null}}},
   {"data":{"name":"gMedHi"},"mark":{"type":"tick","orient":"horizontal","size":27,"thickness":1,"color":"#333","opacity":1}},
   {"data":{"name":"gMedLo"},"mark":{"type":"tick","orient":"horizontal","size":22,"thickness":1,"color":"#333","opacity":1}},
   {"data":{"name":"gOut"},"mark":{"type":"point","shape":"circle","filled":true,"color":"#000","size":10,"opacity":1}},
   {"data":{"name":"gArrow"},"mark":{"type":"rule","strokeWidth":2,"x2Offset":13},"encoding":{"x2":{"field":"x"}}},
   {"data":{"name":"gArrow"},"mark":{"type":"point","shape":"triangle-left","filled":true,"color":"#000","size":45,"opacity":1,"xOffset":3}},
   {"data":{"name":"gCount"},"mark":{"type":"text","fontSize":11,"fontWeight":"bold"},"encoding":{"text":{"field":"label"}}},
   {"data":{"name":"gN"},"mark":{"type":"text","fontSize":11,"fontWeight":"bold"},"encoding":{"text":{"field":"label"}}},
   {"data":{"values":[{"x":1,"y":0.95,"label":"n ="}]},"mark":{"type":"text","fontSize":11,"fontWeight":"bold","align":"right","dx":-8},"encoding":{"text":{"field":"label"}}},
   {"data":{"values":[{"x":-1.37,"y":29.4,"label":"G"}]},"mark":{"type":"text","fontSize":24},"encoding":{"text":{"field":"label"}}}
  ]}
]
}
